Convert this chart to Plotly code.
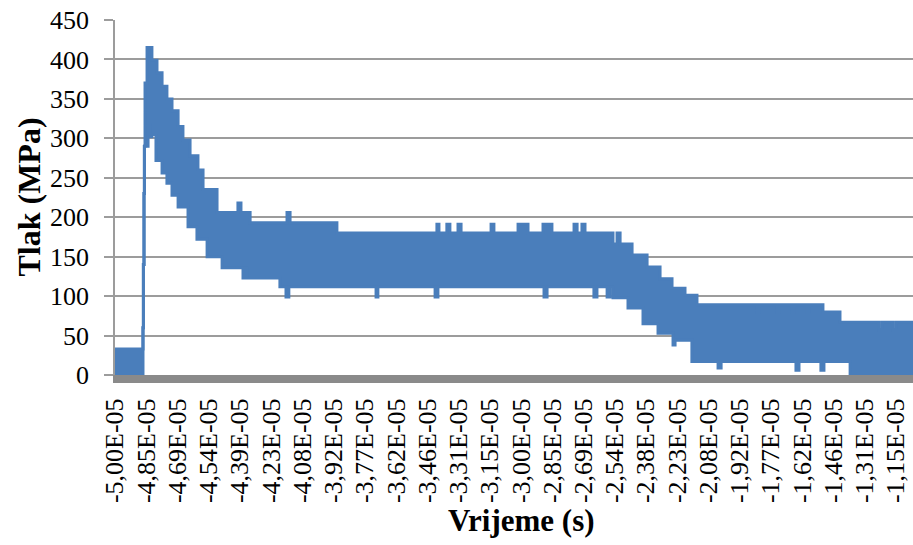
import plotly.graph_objects as go

# Category tick labels on the time axis (s)
x_labels = ["-5,00E-05", "-4,85E-05", "-4,69E-05", "-4,54E-05", "-4,39E-05", "-4,23E-05",
            "-4,08E-05", "-3,92E-05", "-3,77E-05", "-3,62E-05", "-3,46E-05", "-3,31E-05",
            "-3,15E-05", "-3,00E-05", "-2,85E-05", "-2,69E-05", "-2,54E-05", "-2,38E-05",
            "-2,23E-05", "-2,08E-05", "-1,92E-05", "-1,77E-05", "-1,62E-05", "-1,46E-05",
            "-1,31E-05", "-1,15E-05"]

# Upper envelope of the oscillating pressure signal (time in 1E-05 s, pressure in MPa)
upper_t = [-5.000, -4.862, -4.860, -4.857, -4.855, -4.852, -4.842, -4.818, -4.793, -4.768,
           -4.744, -4.719, -4.689, -4.665, -4.630, -4.591, -4.566, -4.497, -4.394, -4.379,
           -4.334, -4.152, -4.137, -3.906, -3.413, -3.403, -3.364, -3.349, -3.309, -3.294,
           -3.146, -3.132, -3.013, -2.964, -2.890, -2.846, -2.737, -2.722, -2.698, -2.683,
           -2.545, -2.525, -2.510, -2.451, -2.377, -2.313, -2.254, -2.190, -2.131, -1.836,
           -1.826, -1.737, -1.727, -1.663, -1.653, -1.589, -1.579, -1.510, -1.426, -1.234,
           -1.219, -1.165, -1.150, -1.031]
upper_v = [33, 60, 140, 230, 290, 370, 415, 399, 383, 366,
           350, 335, 315, 298, 278, 260, 235, 206, 218, 206,
           193, 206, 193, 180, 191, 180, 191, 180, 191, 180,
           191, 180, 191, 180, 191, 180, 191, 180, 191, 180,
           166, 180, 166, 152, 137, 122, 110, 101, 89, 80,
           89, 80, 89, 80, 89, 80, 89, 80, 67, 57,
           67, 57, 67, 67]

# Lower envelope of the oscillating pressure signal
lower_t = [-5.000, -4.862, -4.860, -4.857, -4.855, -4.837, -4.827, -4.818, -4.798, -4.768,
           -4.744, -4.719, -4.689, -4.640, -4.596, -4.546, -4.472, -4.369, -4.359, -4.349,
           -4.187, -4.157, -4.143, -3.713, -3.704, -3.422, -3.408, -2.885, -2.870, -2.639,
           -2.624, -2.574, -2.560, -2.545, -2.471, -2.397, -2.323, -2.249, -2.239, -2.156,
           -2.027, -2.012, -1.643, -1.628, -1.520, -1.505, -1.376, -1.031]
lower_v = [0, 60, 140, 230, 290, 317, 302, 305, 272, 256,
           243, 228, 213, 188, 172, 150, 136, 123, 136, 123,
           112, 99, 112, 99, 112, 99, 112, 99, 112, 99,
           112, 99, 112, 98, 85, 65, 53, 38, 44, 17,
           9, 17, 6, 17, 6, 17, 0, 0]

blue = "#4A7EBB"
grid = "#9C9C9C"
serif = "Liberation Serif, Times New Roman, serif"

label_vals = [float(s.replace(",", ".")) * 1e5 for s in x_labels]
step = (label_vals[-1] - label_vals[0]) / (len(label_vals) - 1)
tick_vals = [label_vals[0] + k * step for k in range(len(label_vals))]

fig = go.Figure()
fig.add_trace(go.Scatter(x=lower_t, y=lower_v, mode="lines", line_shape="hv",
                         line=dict(color=blue, width=3), showlegend=False, hoverinfo="skip"))
fig.add_trace(go.Scatter(x=upper_t, y=upper_v, mode="lines", line_shape="hv",
                         line=dict(color=blue, width=3), fill="tonexty", fillcolor=blue,
                         showlegend=False, hoverinfo="skip"))

fig.update_layout(
    width=913, height=545,
    margin=dict(l=115, r=0, t=20, b=170),
    paper_bgcolor="white", plot_bgcolor="white",
    font=dict(family=serif, color="black"),
    xaxis=dict(range=[-5.0, -1.066], tickmode="array", tickvals=tick_vals, ticktext=x_labels,
               tickangle=-90, tickfont=dict(size=26, family=serif, color="black"),
               showgrid=False, zeroline=False, showline=True, linecolor="#8A8A8A", linewidth=8,
               ticks="", ticklabelstandoff=5, automargin=False),
    yaxis=dict(range=[0, 450], dtick=50, tickfont=dict(size=26, family=serif, color="black"),
               showgrid=True, gridcolor=grid, gridwidth=1.5, zeroline=False,
               showline=True, linecolor=grid, linewidth=1.5,
               ticks="outside", ticklen=9, tickcolor=grid, tickwidth=1.5,
               ticklabelstandoff=10, automargin=False),
    annotations=[
        dict(text="<b>Tlak (MPa)</b>", xref="paper", yref="paper", x=-0.109, y=0.5,
             showarrow=False, textangle=-90, font=dict(size=32, family=serif, color="black"),
             xanchor="center", yanchor="middle"),
        dict(text="<b>Vrijeme (s)</b>", xref="paper", yref="paper", x=0.51, y=-0.41,
             showarrow=False, font=dict(size=31, family=serif, color="black"),
             xanchor="center", yanchor="middle"),
    ],
)

fig.write_html("out.html", config={"displayModeBar": False},
               post_script="document.body.style.margin='0';document.body.style.overflow='hidden';")
